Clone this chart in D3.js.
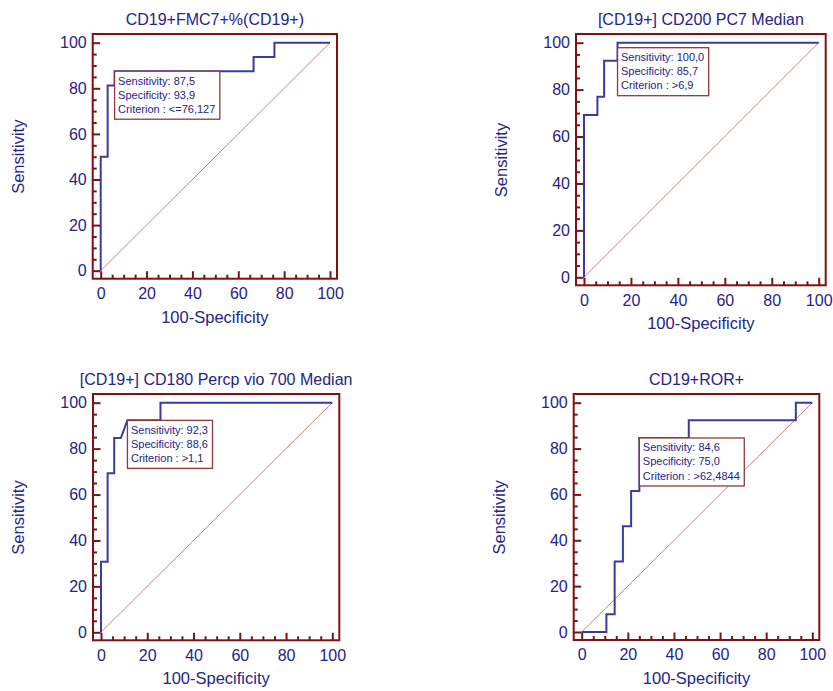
<!DOCTYPE html>
<html><head><meta charset="utf-8">
<script src="https://cdn.jsdelivr.net/npm/d3@7"></script>
<style>body{margin:0;background:#fff} svg{display:block}</style>
</head><body><svg id="c" width="833" height="691"></svg>
<script>
// ---- data ----
const titles = ["CD19+FMC7+%(CD19+)", "[CD19+] CD200 PC7 Median", "[CD19+] CD180 Percp vio 700 Median", "CD19+ROR+"];
const fpr1 = [0, 0, 3.03, 3.03, 6.06, 6.06, 66.67, 66.67, 75.76, 75.76, 100];
const tpr1 = [0, 50, 50, 81.25, 81.25, 87.5, 87.5, 93.75, 93.75, 100, 100];
const fpr2 = [0, 0, 5.71, 5.71, 8.57, 8.57, 14.29, 14.29, 100];
const tpr2 = [0, 69.23, 69.23, 76.92, 76.92, 92.31, 92.31, 100, 100];
const fpr3 = [0, 0, 2.86, 2.86, 5.71, 5.71, 8.57, 11.43, 25.71, 25.71, 100];
const tpr3 = [0, 30.77, 30.77, 69.23, 69.23, 84.62, 84.62, 92.31, 92.31, 100, 100];
const fpr4 = [0, 10.71, 10.71, 14.29, 14.29, 17.86, 17.86, 21.43, 21.43, 25, 25, 46.43, 46.43, 92.86, 92.86, 100];
const tpr4 = [0, 0, 7.69, 7.69, 30.77, 30.77, 46.15, 46.15, 61.54, 61.54, 84.62, 84.62, 92.31, 92.31, 100, 100];
const sensTxt = ["87,5", "100,0", "92,3", "84,6"];
const specTxt = ["93,9", "85,7", "88,6", "75,0"];
const critTxt = ["<=76,127", ">6,9", ">1,1", ">62,4844"];
const critFpr = [6.06, 14.29, 11.43, 25];
const critTpr = [87.5, 100, 92.31, 84.62];
const majorTicks = [0, 20, 40, 60, 80, 100];
const minorTicks = [5, 10, 15, 25, 30, 35, 45, 50, 55, 65, 70, 75, 85, 90, 95];
const xLabel = "100-Specificity";
const yLabel = "Sensitivity";

// ---- layout (pixel ranges of the 0..100 data extent) ----
const layout = [
  {x0: 100.7, x1: 330,   y0: 270.7, y1: 42.7, boxDy: 0},
  {x0: 584,   x1: 818.7, y0: 277.3, y1: 42.7, boxDy: 5},
  {x0: 101,   x1: 332.3, y0: 632.3, y1: 402.7, boxDy: 0},
  {x0: 581.7, x1: 812.3, y0: 632,   y1: 402.7, boxDy: 0}
];
const series = [[fpr1, tpr1], [fpr2, tpr2], [fpr3, tpr3], [fpr4, tpr4]];

const TXT = "#24248a", FRAME = "#7d1212", CURVE = "#3a3aa2", DIAG = "#c98282", BOX = "#8e3a3a";
const FONT = "'Liberation Sans', Arial, sans-serif";
const svg = d3.select("#c");

layout.forEach((L, i) => {
  const x = d3.scaleLinear().domain([0, 100]).range([L.x0, L.x1]);
  const y = d3.scaleLinear().domain([0, 100]).range([L.y0, L.y1]);
  const fl = L.x0 - 8, fr = L.x1 + 7, ft = L.y1 - 8.7, fb = L.y0 + 8;
  const g = svg.append("g");

  // diagonal
  g.append("line").attr("x1", x(0)).attr("y1", y(0)).attr("x2", x(100)).attr("y2", y(100))
    .attr("stroke", DIAG).attr("stroke-width", 1);

  // ROC curve
  const [fx, ty] = series[i];
  const line = d3.line().x(d => x(d[0])).y(d => y(d[1]));
  g.append("path").attr("d", line(fx.map((v, k) => [v, ty[k]])))
    .attr("fill", "none").attr("stroke", CURVE).attr("stroke-width", 2);

  // frame
  g.append("rect").attr("x", fl).attr("y", ft).attr("width", fr - fl).attr("height", fb - ft)
    .attr("fill", "none").attr("stroke", FRAME).attr("stroke-width", 2);

  // axes
  const yMinor = d3.axisLeft(y).tickValues(minorTicks).tickSize(-4).tickFormat("");
  const yMajor = d3.axisLeft(y).tickValues(majorTicks).tickSize(-7.5).tickPadding(6).tickFormat(d3.format("d"));
  const xMinor = d3.axisBottom(x).tickValues(minorTicks).tickSize(-4).tickFormat("");
  const xMajor = d3.axisBottom(x).tickValues(majorTicks).tickSize(-7.5).tickPadding(9).tickFormat(d3.format("d"));
  [yMinor, yMajor].forEach(a => g.append("g").attr("transform", `translate(${fl},0)`).call(a));
  [xMinor, xMajor].forEach(a => g.append("g").attr("transform", `translate(0,${fb})`).call(a));
  g.selectAll(".domain").remove();
  g.selectAll(".tick line").attr("stroke", FRAME).attr("stroke-width", 2);
  g.selectAll(".tick text").attr("fill", TXT).style("font-family", FONT).style("font-size", "16px");

  // title
  g.append("text").attr("x", (fl + fr) / 2).attr("y", ft - 9).attr("text-anchor", "middle")
    .attr("fill", TXT).style("font-family", FONT).style("font-size", "16px").text(titles[i]);
  // axis labels
  g.append("text").attr("x", (fl + fr) / 2).attr("y", fb + 44).attr("text-anchor", "middle")
    .attr("fill", TXT).style("font-family", FONT).style("font-size", "16.5px").text(xLabel);
  g.append("text").attr("transform", `translate(${fl - 69},${(L.y0 + L.y1) / 2}) rotate(-90)`)
    .attr("text-anchor", "middle").attr("fill", TXT).style("font-family", FONT).style("font-size", "16.5px").text(yLabel);

  // criterion box
  const bx = x(critFpr[i]), by = y(critTpr[i]) + L.boxDy;
  const bg = g.append("g");
  const rect = bg.append("rect").attr("x", bx).attr("y", by).attr("height", 48)
    .attr("fill", "#fff").attr("stroke", BOX).attr("stroke-width", 1.3);
  const lines = ["Sensitivity: " + sensTxt[i], "Specificity: " + specTxt[i], "Criterion : " + critTxt[i]];
  let w = 0;
  lines.forEach((t, k) => {
    const tt = bg.append("text").attr("x", bx + 3.5).attr("y", by + 13.3 + k * 14.2)
      .attr("fill", TXT).style("font-family", FONT).style("font-size", "11px").text(t);
    w = Math.max(w, tt.node().getComputedTextLength());
  });
  rect.attr("width", w + 8);
});
</script></body></html>
